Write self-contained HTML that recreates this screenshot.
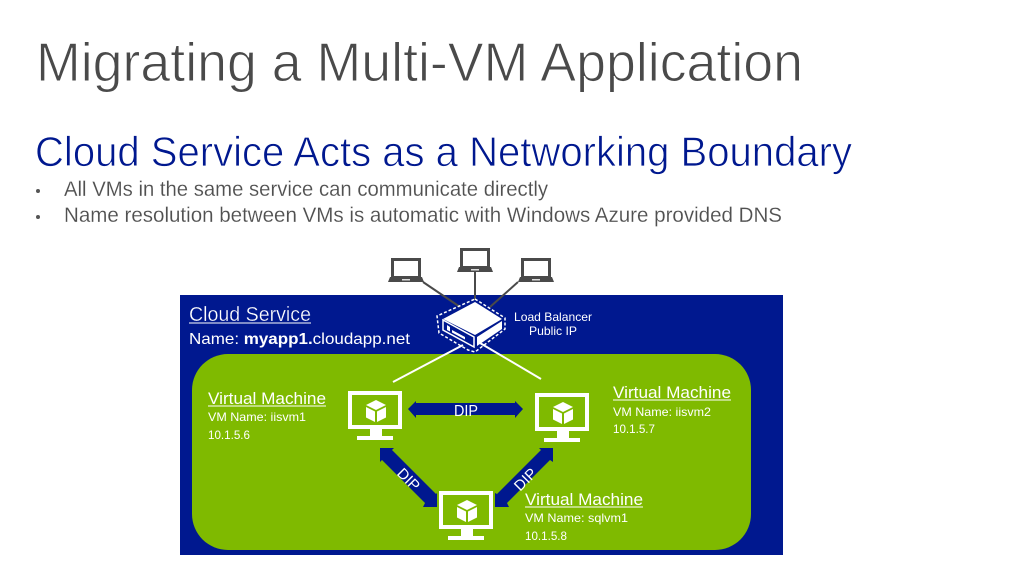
<!DOCTYPE html>
<html><head><meta charset="utf-8"><style>
html,body{margin:0;padding:0;background:#fff;width:1024px;height:576px;overflow:hidden}
svg{display:block}
text{font-family:"Liberation Sans",sans-serif}
</style></head><body>
<svg width="1024" height="576" viewBox="0 0 1024 576" xmlns="http://www.w3.org/2000/svg">
<defs>
<g id="vm">
<rect x="2" y="2" width="50" height="34" fill="none" stroke="#fff" stroke-width="4"/>
<rect x="22" y="38" width="12" height="8" fill="#fff"/>
<rect x="9" y="45" width="36" height="4" fill="#fff"/>
<path d="M28 9l10 5-10 5-10-5z" fill="#fff"/>
<path d="M18 16l9 4.500v10.500l-9-4.500z" fill="#fff"/>
<path d="M38 16l-9 4.500v10.500l9-4.500z" fill="#fff"/>
</g>
<g id="lap">
<rect x="4.500" y="1.500" width="27" height="18" fill="#fff" stroke="#4a4a4a" stroke-width="3"/>
<path d="M2 19h32l2 5h-36z" fill="#4a4a4a"/>
<rect x="14" y="21" width="8" height="1.500" fill="#ddd"/>
</g>
</defs>

<text x="36" y="81" font-size="55" fill="#4a4a4a" stroke="#fff" stroke-width="1.000" textLength="767" lengthAdjust="spacingAndGlyphs">Migrating a Multi-VM Application</text>
<text x="35" y="166" font-size="42" fill="#00188f" stroke="#fff" stroke-width="0.800" textLength="817" lengthAdjust="spacingAndGlyphs">Cloud Service Acts as a Networking Boundary</text>
<circle cx="38" cy="191" r="2" fill="#555"/>
<text x="64" y="196" font-size="21" fill="#505050" stroke="#fff" stroke-width="0.150" textLength="484" lengthAdjust="spacingAndGlyphs">All VMs in the same service can communicate directly</text>
<circle cx="38" cy="217" r="2" fill="#555"/>
<text x="64" y="222" font-size="21" fill="#505050" stroke="#fff" stroke-width="0.150" textLength="718" lengthAdjust="spacingAndGlyphs">Name resolution between VMs is automatic with Windows Azure provided DNS</text>

<rect x="180" y="295" width="603" height="260" fill="#00188f"/>
<rect x="192" y="354" width="559" height="196" rx="36" ry="36" fill="#7fba00"/>

<g stroke="#4a4a4a" stroke-width="2" fill="none">
<line x1="423" y1="282" x2="460" y2="307"/>
<line x1="475" y1="272" x2="475" y2="300"/>
<line x1="518" y1="282" x2="490" y2="307"/>
</g>
<use href="#lap" x="388" y="258"/>
<use href="#lap" x="457" y="248"/>
<use href="#lap" x="518" y="258"/>

<g stroke="#fff" stroke-width="2" fill="none">
<line x1="463" y1="345" x2="393" y2="382"/>
<line x1="480" y1="343" x2="541" y2="379"/>
</g>
<path d="M475 299L505 318V329L475 352 468 350 439 333 437 316Z" fill="none" stroke="#fff" stroke-width="1.500" stroke-dasharray="3 2"/>
<path d="M475 302L502 319 475 335 443 319Z" fill="#fff"/>
<path d="M477 337L502 321V329L477 346Z" fill="#fff"/>
<path d="M443 320L474 337V347L443 330Z" fill="#00188f" stroke="#fff" stroke-width="1.500"/>
<path d="M447 325V330L450 331.500V327Z" fill="#fff"/>
<path d="M452 330L465 337V339.500L452 332.500Z" fill="#fff"/>

<text x="189" y="321" font-size="20" fill="#fff" stroke="#00188f" stroke-width="0.300" textLength="122" lengthAdjust="spacingAndGlyphs">Cloud Service</text>
<line x1="189" y1="323" x2="311" y2="323" stroke="#fff" stroke-width="1"/>
<text x="189" y="344" font-size="16" fill="#fff" textLength="221" lengthAdjust="spacingAndGlyphs">Name: <tspan font-weight="bold">myapp1.</tspan>cloudapp.net</text>
<text x="553" y="321" font-size="12" fill="#fff" text-anchor="middle" textLength="78" lengthAdjust="spacingAndGlyphs">Load Balancer</text>
<text x="553" y="335" font-size="12" fill="#fff" text-anchor="middle" textLength="48" lengthAdjust="spacingAndGlyphs">Public IP</text>

<use href="#vm" x="348" y="391"/>
<use href="#vm" x="535" y="393"/>
<use href="#vm" x="439" y="491"/>

<path d="M408 409L416 401V403H515V401L523 409 515 418V415H416V418Z" fill="#00188f"/>
<text x="466" y="416" font-size="16" fill="#fff" text-anchor="middle" textLength="24" lengthAdjust="spacingAndGlyphs">DIP</text>
<path d="M380 448H394L392 450 436 494 437 493V507H423L425 503 382 460 380 462Z" fill="#00188f"/>
<path d="M553 448H539L541 450 497 494 495 493V507H509L507 503 550 460 553 462Z" fill="#00188f"/>
<text x="0" y="0" font-size="15" fill="#fff" text-anchor="middle" textLength="25" lengthAdjust="spacingAndGlyphs" transform="translate(405 483) rotate(45)">DIP</text>
<text x="0" y="0" font-size="15" fill="#fff" text-anchor="middle" textLength="25" lengthAdjust="spacingAndGlyphs" transform="translate(529 483) rotate(-45)">DIP</text>

<g fill="#fff">
<text x="208" y="404" font-size="17" textLength="118" lengthAdjust="spacingAndGlyphs">Virtual Machine</text>
<line x1="208" y1="406" x2="326" y2="406" stroke="#fff"/>
<text x="208" y="421" font-size="12" textLength="98" lengthAdjust="spacingAndGlyphs">VM Name: iisvm1</text>
<text x="208" y="439" font-size="12" textLength="42" lengthAdjust="spacingAndGlyphs">10.1.5.6</text>
<text x="613" y="398" font-size="17" textLength="118" lengthAdjust="spacingAndGlyphs">Virtual Machine</text>
<line x1="613" y1="400" x2="731" y2="400" stroke="#fff"/>
<text x="613" y="416" font-size="12" textLength="98" lengthAdjust="spacingAndGlyphs">VM Name: iisvm2</text>
<text x="613" y="433" font-size="12" textLength="42" lengthAdjust="spacingAndGlyphs">10.1.5.7</text>
<text x="525" y="505" font-size="17" textLength="118" lengthAdjust="spacingAndGlyphs">Virtual Machine</text>
<line x1="525" y1="507" x2="643" y2="507" stroke="#fff"/>
<text x="525" y="522" font-size="12" textLength="103" lengthAdjust="spacingAndGlyphs">VM Name: sqlvm1</text>
<text x="525" y="540" font-size="12" textLength="42" lengthAdjust="spacingAndGlyphs">10.1.5.8</text>
</g>
</svg>
</body></html>
